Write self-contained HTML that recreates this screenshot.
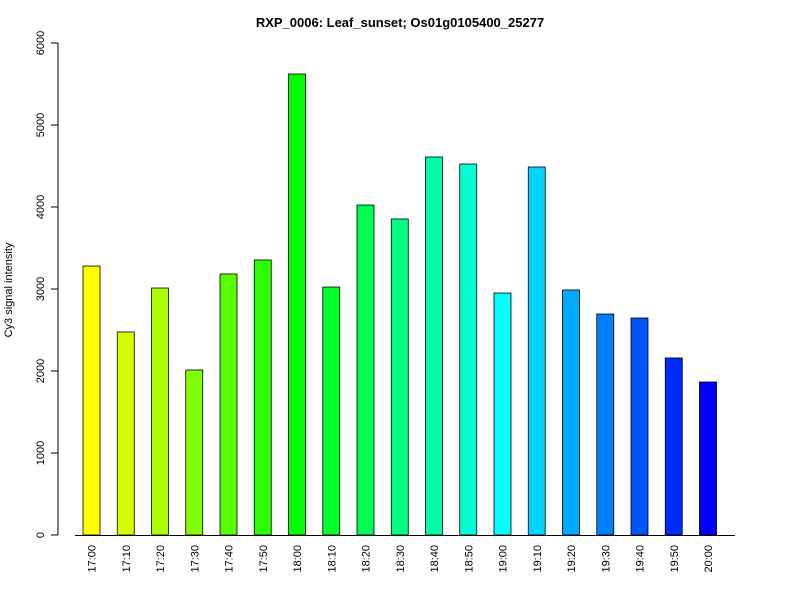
<!DOCTYPE html>
<html><head><meta charset="utf-8"><style>
body{margin:0;background:#fff;}
svg{display:block;font-family:"Liberation Sans",Arial,sans-serif;}
</style></head><body>
<svg id="chart" width="800" height="600">
<text x="400" y="27" text-anchor="middle" font-weight="bold" font-size="13">RXP_0006: Leaf_sunset; Os01g0105400_25277</text>
<text transform="translate(12,290) rotate(-90)" text-anchor="middle" font-size="11">Cy3 signal intensity</text>
<g id="yaxis"></g>
<g id="bars"></g>
<g id="xaxis"></g>
</svg>
<script>
const categories=["17:00","17:10","17:20","17:30","17:40","17:50","18:00","18:10","18:20","18:30","18:40","18:50","19:00","19:10","19:20","19:30","19:40","19:50","20:00"];
const values=[3280,2476,3012,2012,3183,3354,5622,3024,4024,3854,4610,4524,2951,4488,2988,2695,2646,2159,1866];
const yTicks=[0,1000,2000,3000,4000,5000,6000];
const NS="http://www.w3.org/2000/svg";
function y(v){return 535-v*(492/6000);}
function x(i){return 91.5+i*34.25;}
function mk(t,a,p){const e=document.createElementNS(NS,t);for(const k in a)e.setAttribute(k,a[k]);p.appendChild(e);return e;}
const ya=document.getElementById('yaxis');
const yl=mk('line',{x1:58,x2:58,y1:y(0),y2:y(6000),stroke:'#000'},ya);


yTicks.forEach(t=>{
 const l=mk('line',{x1:51,x2:58,y1:y(t),y2:y(t),stroke:'#000'},ya);
 
 
 const tx=mk('text',{transform:`translate(44,${y(t)}) rotate(-90)`,'text-anchor':'middle','font-size':'11'},ya);
 tx.textContent=t;
 
 
});
const bg=document.getElementById('bars');
const xa=document.getElementById('xaxis');
const xl=mk('line',{x1:75,x2:735,y1:535.5,y2:535.5,stroke:'#000'},xa);


const n=categories.length;
categories.forEach((c,i)=>{
 const hue=60+i*(180/(n-1));
 const r=mk('rect',{x:x(i)-8.5,y:y(values[i]),width:17,height:y(0)-y(values[i]),fill:`hsl(${hue},100%,50%)`,stroke:'#000','stroke-width':0.8},bg);
 
 
 const t=mk('text',{transform:`translate(${x(i)+4},545) rotate(-90)`,'text-anchor':'end','font-size':'11'},xa);
 t.textContent=c;
 
 
});
</script>
</body></html>
